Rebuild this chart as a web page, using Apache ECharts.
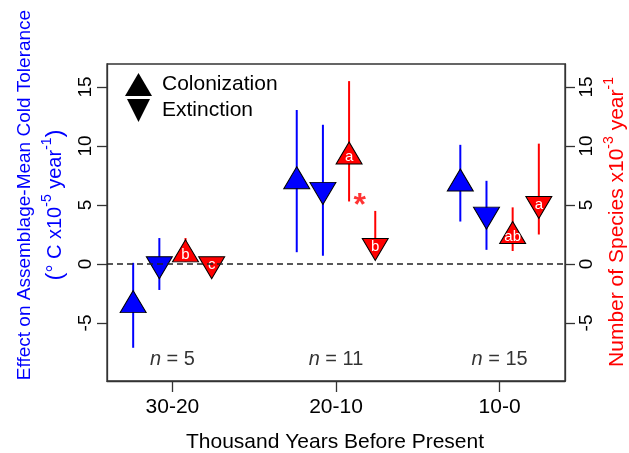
<!DOCTYPE html>
<html>
<head>
<meta charset="utf-8">
<script src="https://cdn.jsdelivr.net/npm/echarts@6/dist/echarts.min.js"></script>
<style>
  html, body { margin: 0; padding: 0; background: #fff; }
  #chart { width: 629px; height: 453px; }
</style>
</head>
<body>
<div id="chart"></div>
<script>
// time bins (thousand years before present)
var periods = ["30-20", "20-10", "10-0"];
var sampleSizes = [5, 11, 15];
var yTicks = [-5, 0, 5, 10, 15];

// effect on assemblage-mean cold tolerance (left axis, blue)
var coldColonization = [-3.5, 7.0, 6.8];
var coldColonizationLow = [-7.1, 1.0, 3.6];
var coldColonizationHigh = [0.1, 13.05, 10.1];
var coldExtinction = [0.0, 6.3, 4.2];
var coldExtinctionLow = [-2.2, 0.7, 1.2];
var coldExtinctionHigh = [2.2, 11.8, 7.05];

// number of species (right axis, red)
var sppColonization = [0.8, 9.1, 2.35];
var sppColonizationLow = [0.2, 5.3, 1.1];
var sppColonizationHigh = [2.2, 15.5, 4.8];
var sppColonizationLetters = ["b", "a", "ab"];
var sppExtinction = [0.0, 1.55, 5.1];
var sppExtinctionLow = [-0.3, 0.8, 2.5];
var sppExtinctionHigh = [0.3, 4.5, 10.2];
var sppExtinctionLetters = ["c", "b", "a"];

// significant difference marker
var starPoint = [2.145, 5.4];

var BLUE = "#0000ff";
var RED = "#ff0000";
var FONT = "Liberation Sans, Arial, sans-serif";
var UP = "triangle";
var DOWN = "path://M0,0L2,0L1,2Z";
var MARK = [26, 22];

function points(vals, off) {
  return vals.map(function (v, i) { return [i + 1 + off, v]; });
}
function bars(low, high, off) {
  return low.map(function (l, i) { return [i + 1 + off, l, high[i]]; });
}
function errorBar(color) {
  return function (params, api) {
    var a = api.coord([api.value(0), api.value(1)]);
    var b = api.coord([api.value(0), api.value(2)]);
    return {
      type: "line",
      shape: { x1: a[0], y1: a[1], x2: b[0], y2: b[1] },
      style: { stroke: color, lineWidth: 2 }
    };
  };
}
function marker(name, vals, off, symbol, color, letters) {
  var up = symbol === UP;
  return {
    name: name,
    type: "scatter",
    z: 4,
    data: points(vals, off),
    symbol: symbol,
    symbolSize: MARK,
    symbolOffset: [0, up ? -3.7 : 3.7],
    itemStyle: { color: color, borderColor: "#000", borderWidth: 1, opacity: 1 },
    label: letters ? {
      show: true,
      position: "inside",
      offset: [0, up ? 4 : -3],
      color: "#fff",
      fontSize: 15,
      fontFamily: FONT,
      formatter: function (p) { return letters[p.dataIndex]; }
    } : { show: false },
    emphasis: { disabled: true }
  };
}

var chart = echarts.init(document.getElementById("chart"));

var yAxisBase = {
  type: "value",
  min: -9.915,
  max: 16.95,
  splitLine: { show: false },
  axisLine: { show: true, onZero: false, lineStyle: { color: "#333", width: 1.3 } },
  axisTick: { show: true, length: 10, customValues: yTicks, lineStyle: { color: "#333", width: 1.3 } },
  axisLabel: { rotate: 90, margin: 12, fontSize: 19, color: "#000", fontFamily: FONT, customValues: yTicks }
};

chart.setOption({
  animation: false,
  grid: {
    left: 107, right: 64, top: 64, bottom: 72,
    show: true, borderColor: "#333", borderWidth: 1.3, backgroundColor: "transparent"
  },
  xAxis: {
    type: "value",
    min: 0.6,
    max: 3.4,
    splitLine: { show: false },
    axisLine: { show: true, onZero: false, lineStyle: { color: "#333", width: 1.3 } },
    axisTick: { show: true, length: 11, customValues: [1, 2, 3], lineStyle: { color: "#333", width: 1.3 } },
    axisLabel: {
      margin: 16, fontSize: 21, color: "#000", fontFamily: FONT,
      customValues: [1, 2, 3],
      formatter: function (v) { return periods[Math.round(v) - 1]; }
    }
  },
  yAxis: [
    Object.assign({ position: "left" }, yAxisBase),
    Object.assign({ position: "right" }, yAxisBase)
  ],
  legend: {
    orient: "vertical",
    left: 125,
    top: 73,
    padding: 0,
    itemWidth: 27,
    itemHeight: 23,
    itemGap: 3,
    selectedMode: false,
    textStyle: { fontSize: 21, color: "#000", fontFamily: FONT, padding: [0, 0, 0, 5] },
    data: [
      { name: "Colonization", icon: UP, itemStyle: { color: "#000", borderWidth: 0 } },
      { name: "Extinction", icon: DOWN, itemStyle: { color: "#000", borderWidth: 0 } }
    ]
  },
  graphic: [
    {
      type: "text", x: 25, y: 195, rotation: Math.PI / 2,
      style: {
        text: "Effect on Assemblage-Mean Cold Tolerance",
        fill: BLUE, font: "19px " + FONT,
        align: "center", verticalAlign: "middle", textAlign: "center", textVerticalAlign: "middle"
      }
    },
    {
      type: "text", x: 55, y: 205, rotation: Math.PI / 2,
      style: {
        text: "{p|(}{t|° C x10}{s|-5}{t| year}{s|-1}{p|)}",
        fill: BLUE, font: "20px " + FONT,
        align: "center", verticalAlign: "middle", textAlign: "center", textVerticalAlign: "middle",
        rich: {
          p: { fontSize: 24, fontFamily: FONT, fill: BLUE, lineHeight: 30 },
          t: { fontSize: 20, fontFamily: FONT, fill: BLUE, lineHeight: 30 },
          s: { fontSize: 14, fontFamily: FONT, fill: BLUE, verticalAlign: "top", lineHeight: 16 }
        }
      }
    },
    {
      type: "text", x: 617, y: 222, rotation: Math.PI / 2,
      style: {
        text: "{t|Number of Species x10}{s|-3}{t| year}{s|-1}",
        fill: RED, font: "21px " + FONT,
        align: "center", verticalAlign: "middle", textAlign: "center", textVerticalAlign: "middle",
        rich: {
          t: { fontSize: 21, fontFamily: FONT, fill: RED, lineHeight: 30 },
          s: { fontSize: 14, fontFamily: FONT, fill: RED, verticalAlign: "top", lineHeight: 16 }
        }
      }
    },
    {
      type: "text", x: 335, y: 442,
      style: {
        text: "Thousand Years Before Present",
        fill: "#000", font: "21px " + FONT,
        align: "center", verticalAlign: "middle", textAlign: "center", textVerticalAlign: "middle"
      }
    }
  ],
  series: [
    {
      type: "custom", name: "cold-col-err", z: 2,
      renderItem: errorBar(BLUE), data: bars(coldColonizationLow, coldColonizationHigh, -0.24),
      markLine: {
        silent: true, symbol: "none", label: { show: false },
        lineStyle: { color: "#222", type: [6, 4], width: 1.5 },
        data: [{ yAxis: 0 }]
      }
    },
    { type: "custom", name: "cold-ext-err", z: 2, renderItem: errorBar(BLUE), data: bars(coldExtinctionLow, coldExtinctionHigh, -0.08) },
    { type: "custom", name: "spp-col-err", z: 2, renderItem: errorBar(RED), data: bars(sppColonizationLow, sppColonizationHigh, 0.08) },
    { type: "custom", name: "spp-ext-err", z: 2, renderItem: errorBar(RED), data: bars(sppExtinctionLow, sppExtinctionHigh, 0.24) },
    marker("Colonization", coldColonization, -0.24, UP, BLUE),
    marker("Extinction", coldExtinction, -0.08, DOWN, BLUE),
    marker("Species colonization", sppColonization, 0.08, UP, RED, sppColonizationLetters),
    marker("Species extinction", sppExtinction, 0.24, DOWN, RED, sppExtinctionLetters),
    {
      type: "scatter", name: "n", z: 5,
      data: sampleSizes.map(function (n, i) { return [i + 1, -8.1, n]; }),
      symbolSize: 1,
      itemStyle: { color: "rgba(0,0,0,0)" },
      label: {
        show: true, position: "inside", color: "#000", fontSize: 20, fontFamily: FONT,
        formatter: function (p) { return "{i|n} = " + p.value[2]; },
        rich: { i: { fontStyle: "italic", fontSize: 20, fontFamily: FONT, color: "#000" } }
      }
    },
    {
      type: "scatter", name: "star", z: 5,
      data: [starPoint],
      symbolSize: 1,
      itemStyle: { color: "rgba(0,0,0,0)" },
      label: {
        show: true, position: "inside", offset: [0, 6], color: RED,
        fontSize: 32, fontWeight: "bold", fontFamily: FONT,
        formatter: "*"
      }
    }
  ]
});
</script>
</body>
</html>
